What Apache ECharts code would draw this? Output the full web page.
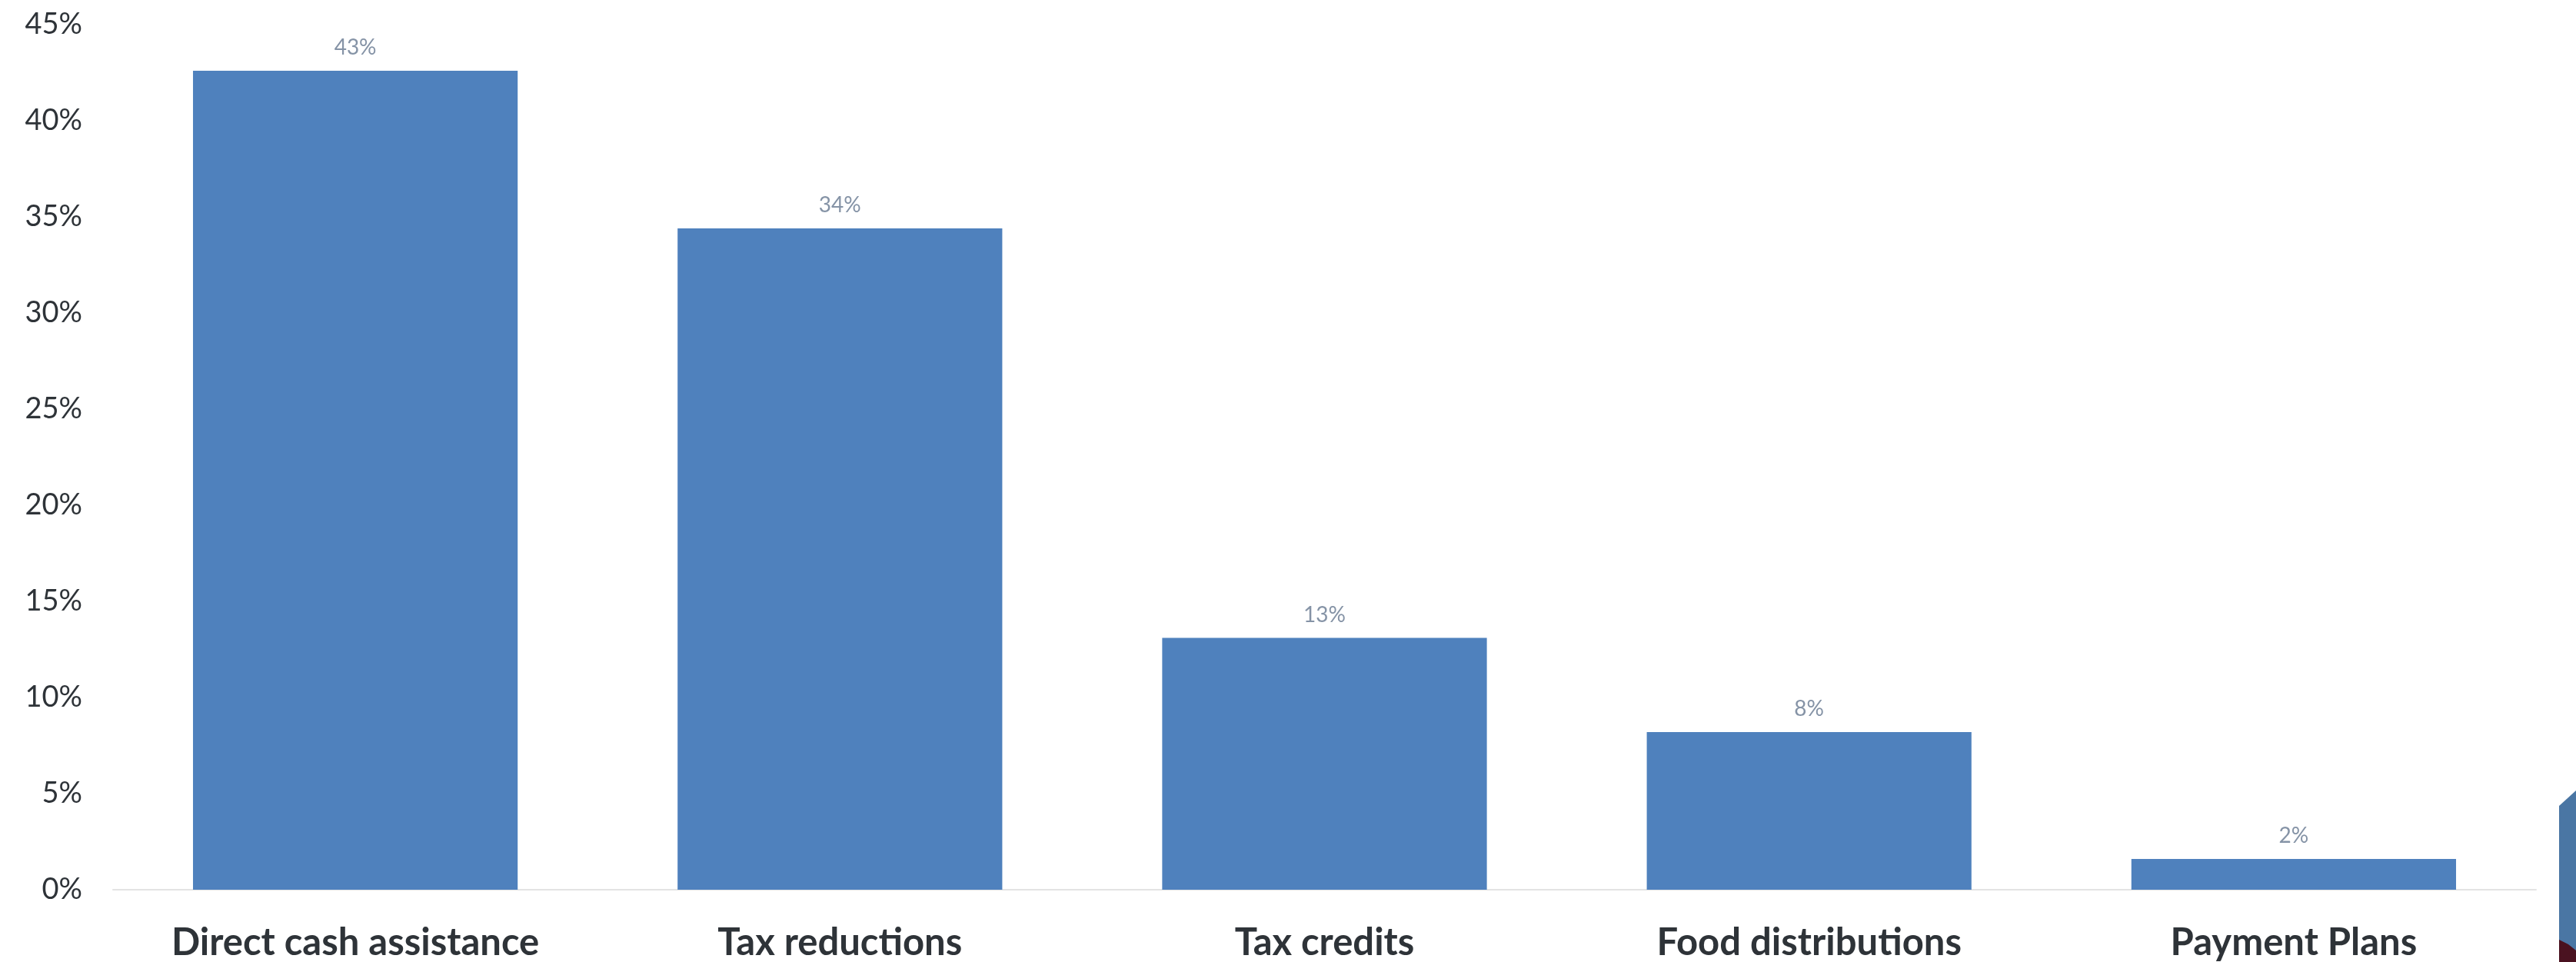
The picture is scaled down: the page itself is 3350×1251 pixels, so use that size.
<!DOCTYPE html>
<html>
<head>
<meta charset="utf-8">
<script src="https://cdn.jsdelivr.net/npm/echarts@6/dist/echarts.min.js"></script>
<style>
  html, body { margin: 0; padding: 0; background: #fff; }
  #myChart { width: 3350px; height: 1251px; }
</style>
</head>
<body>
<div id="myChart"></div>
<script>
// categories and values (percent)
var categories = ['Direct cash assistance', 'Tax reductions', 'Tax credits', 'Food distributions', 'Payment Plans'];
var shares = [42.6, 34.4, 13.1, 8.2, 1.6];

var chartDom = document.getElementById('myChart');
var myChart = echarts.init(chartDom, null, { renderer: 'canvas' });
var option = {
  backgroundColor: '#ffffff',
  animation: false,
  grid: {
    top: 32,
    left: 147,
    right: 52,
    bottom: 93
  },
  xAxis: {
    type: 'category',
    data: categories,
    axisLine: { show: true, lineStyle: { color: '#e3e3e3', width: 2 } },
    axisTick: { show: false },
    axisLabel: {
      color: '#2e3338',
      fontFamily: 'Lato',
      fontWeight: 'bold',
      fontSize: 49,
      margin: 45
    }
  },
  yAxis: {
    type: 'value',
    min: 0,
    max: 45,
    interval: 5,
    splitLine: { show: false },
    axisLine: { show: false },
    axisTick: { show: false },
    axisLabel: {
      color: '#2e3338',
      fontFamily: 'Lato',
      fontSize: 38,
      margin: 40,
      formatter: '{value}%'
    }
  },
  series: [
    {
      name: 'Share',
      type: 'bar',
      data: shares,
      barCategoryGap: '33%',
      itemStyle: { color: '#4f81bd' },
      label: {
        show: true,
        position: 'top',
        distance: 16,
        color: '#8593a6',
        fontFamily: 'Lato',
        fontSize: 28,
        formatter: function (p) {
          return Math.round(p.value) + '%';
        }
      }
    }
  ],
  // slide decoration at the right edge
  graphic: [
    {
      type: 'polygon',
      silent: true,
      shape: { points: [[3328, 1048], [3350, 1028], [3350, 1251], [3328, 1251]] },
      style: { fill: '#4a76a4' }
    },
    {
      type: 'polygon',
      silent: true,
      shape: { points: [[3328, 1222], [3340, 1228], [3350, 1236], [3350, 1251], [3328, 1251]] },
      style: { fill: '#4a1220' }
    }
  ]
};
option && myChart.setOption(option);
</script>
</body>
</html>
